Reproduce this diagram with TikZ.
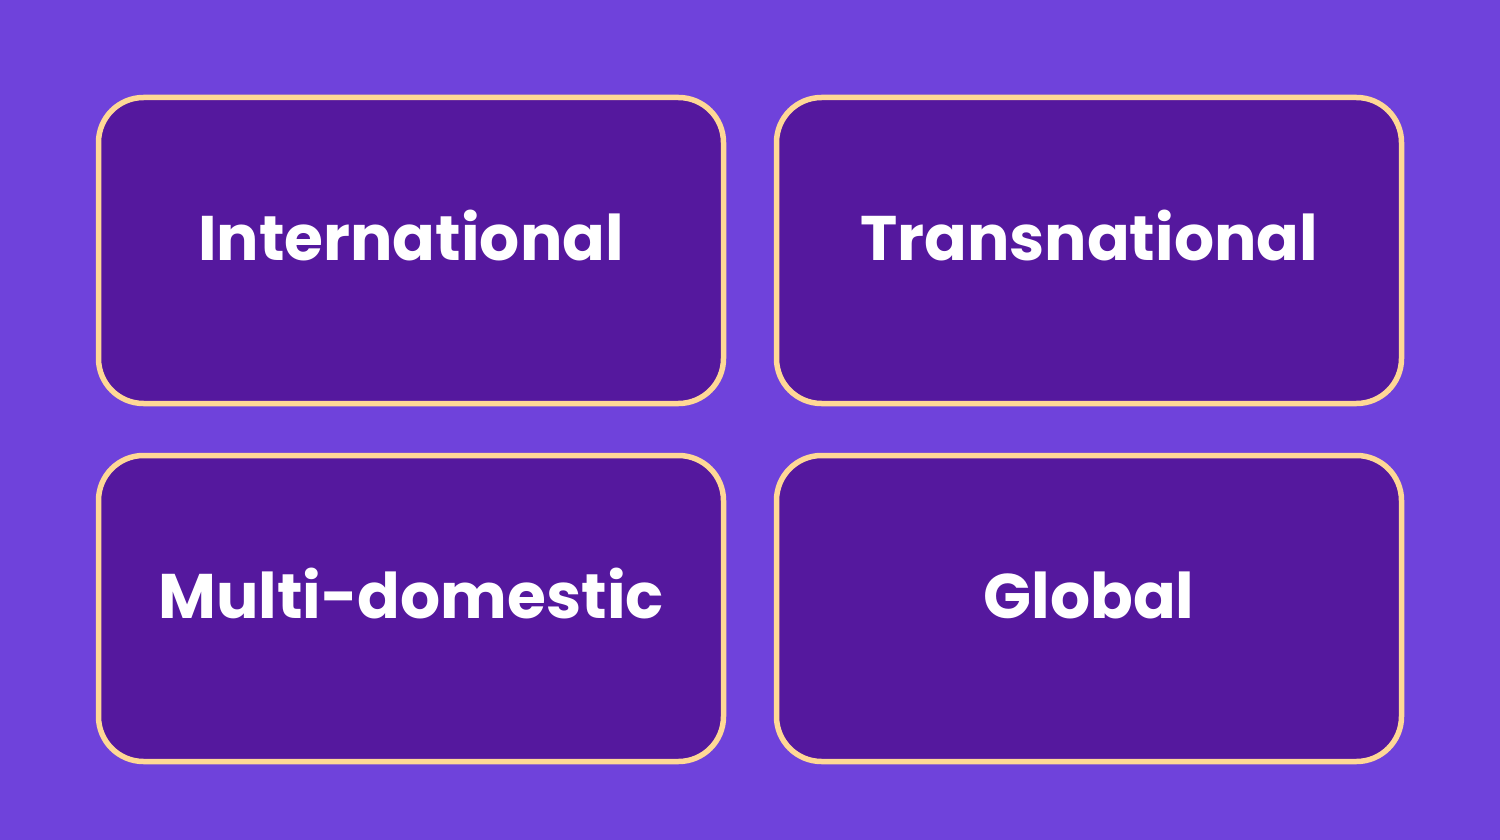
\documentclass[tikz,border=0pt]{standalone}
\usepackage{fontspec}
\setmainfont{Poppins}
\definecolor{bg}{HTML}{6F42DB}
\definecolor{boxfill}{HTML}{55189E}
\definecolor{boxline}{HTML}{FFD896}
\begin{document}
\begin{tikzpicture}[x=1pt,y=-1pt,
  card/.style={draw=boxline,fill=boxfill,line width=5.5pt,rounded corners=45pt,minimum width=625pt,minimum height=306pt,inner sep=0pt},
  lbl/.style={text=white,font=\bfseries\fontsize{63}{70}\selectfont,inner sep=0pt,anchor=base}]
\fill[bg] (0,0) rectangle (1500,840);
\useasboundingbox (0,0) rectangle (1500,840);
\node[card] (c1) at (411,250.5) {};
\node[card] (c2) at (1089,250.5) {};
\node[card] (c3) at (411,608.5) {};
\node[card] (c4) at (1089,608.5) {};
\node[lbl] (t1) at ([yshift=-10pt]c1.center) {International};
\node[lbl] (t2) at ([yshift=-10pt]c2.center) {Transnational};
\node[lbl] (t3) at ([yshift=-10pt]c3.center) {Multi-domestic};
\node[lbl] (t4) at ([yshift=-10pt]c4.center) {Global};
\end{tikzpicture}
\end{document}
